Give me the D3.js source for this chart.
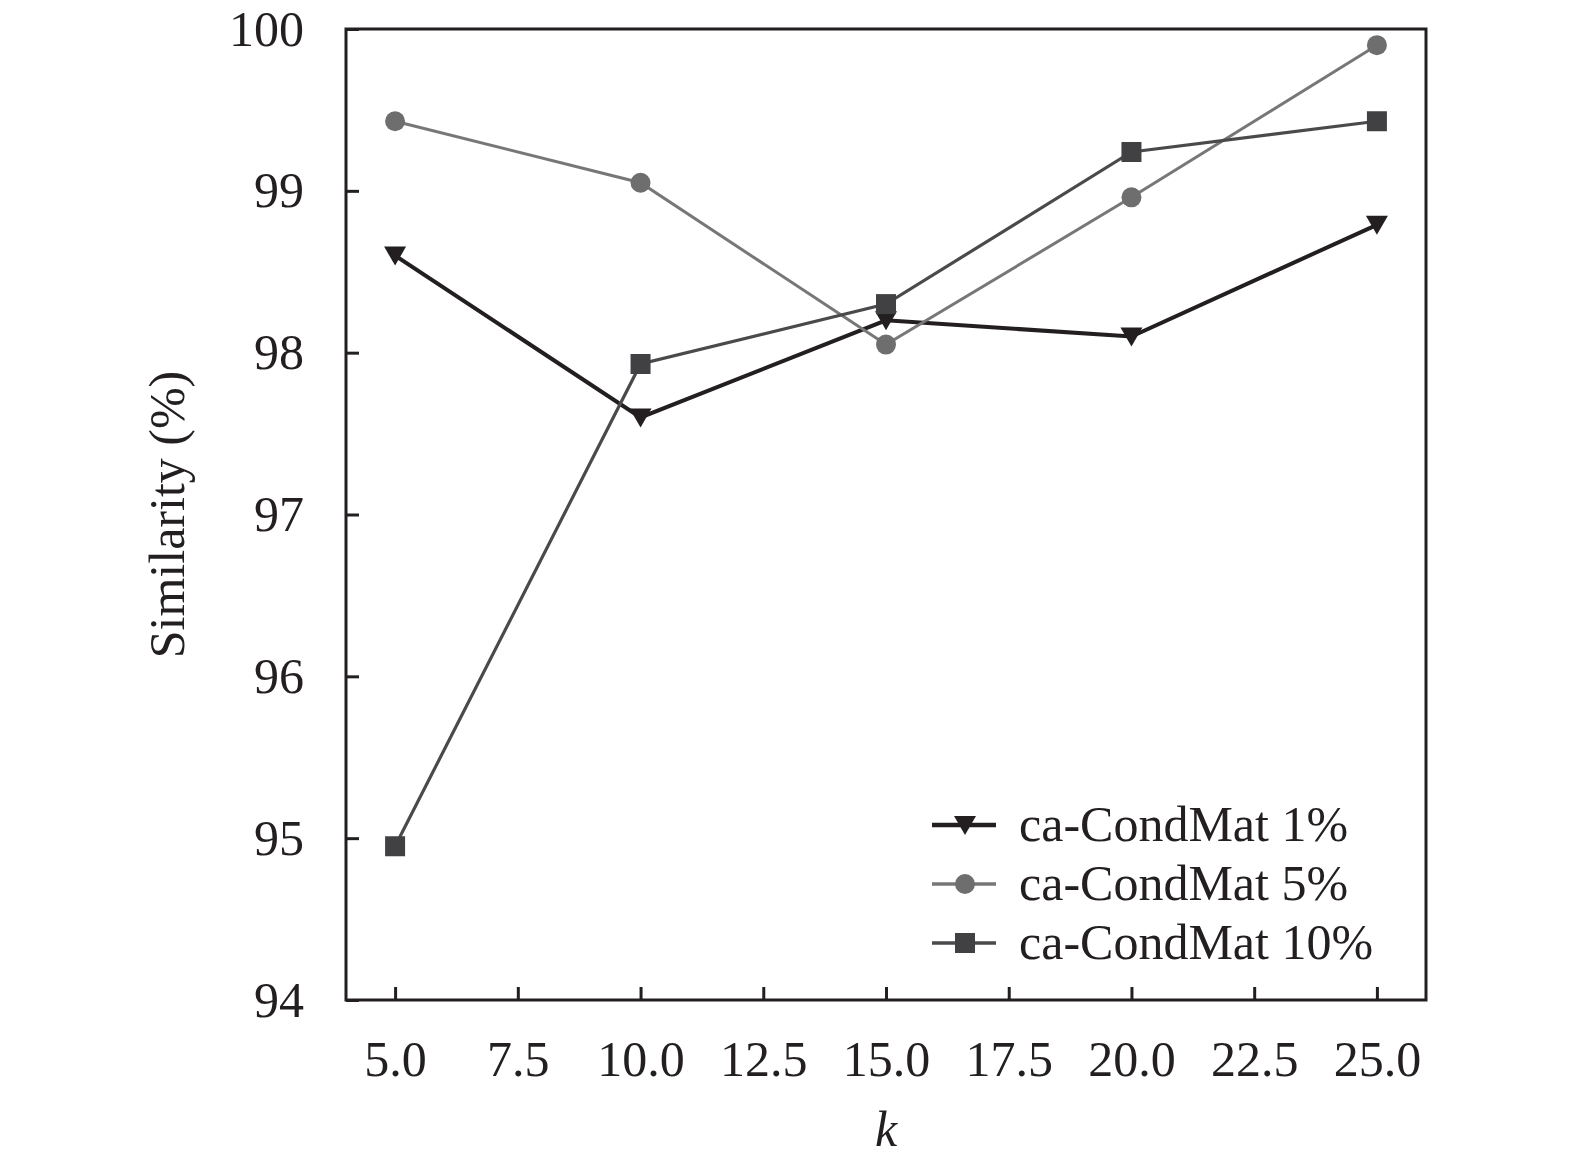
<!DOCTYPE html>
<html lang="en">
<head>
  <meta charset="UTF-8">
  <title>Similarity vs k</title>
  <style>
    html, body {
      margin: 0;
      padding: 0;
      background: #fff;
      overflow: hidden;
    }
    svg {
      display: block;
      font-family: 'Liberation Serif', 'Times New Roman', serif;
    }
  </style>
</head>
<body>
<svg width="1575" height="1169"></svg>
<script src="https://d3js.org/d3.v7.min.js"></script>
<script>
const kValues = [5, 10, 15, 20, 25];
const sim1 = [98.6, 97.6, 98.2, 98.1, 98.79];
const sim5 = [99.43, 99.05, 98.05, 98.96, 99.9];
const sim10 = [94.95, 97.93, 98.3, 99.24, 99.43];
const xTicks = [5, 7.5, 10, 12.5, 15, 17.5, 20, 22.5, 25];
const yTicks = [94, 95, 96, 97, 98, 99, 100];

const series = [
  { name: "ca-CondMat 1%", values: sim1, color: "#231f20", fill: "#231f20", width: 4, symbol: "tri" },
  { name: "ca-CondMat 5%", values: sim5, color: "#777777", fill: "#6e6e6e", width: 3, symbol: "circle" },
  { name: "ca-CondMat 10%", values: sim10, color: "#4a494b", fill: "#414042", width: 3.2, symbol: "square" }
];

const svg = d3.select("svg");
const m = { left: 346, top: 29, right: 1426, bottom: 1000 };

const x = d3.scaleLinear().domain([4, 26]).range([m.left, m.right]);
const y = d3.scaleLinear().domain([94, 100]).range([m.bottom, m.top]);

// frame
svg.append("rect")
  .attr("x", m.left).attr("y", m.top)
  .attr("width", m.right - m.left).attr("height", m.bottom - m.top)
  .attr("fill", "none").attr("stroke", "#231f20").attr("stroke-width", 3);

// x axis (ticks inward)
const xAxis = svg.append("g")
  .attr("transform", `translate(0,${m.bottom})`)
  .call(d3.axisBottom(x).tickValues(xTicks).tickSizeInner(-13).tickSizeOuter(0)
    .tickPadding(40).tickFormat(d3.format(".1f")));
xAxis.select(".domain").remove();
xAxis.selectAll("line").attr("stroke", "#231f20").attr("stroke-width", 3);
xAxis.selectAll("text")
  .attr("font-size", 50).attr("fill", "#231f20")
  .attr("font-family", "'Liberation Serif', serif");

// y axis
const yAxis = svg.append("g")
  .attr("transform", `translate(${m.left},0)`)
  .call(d3.axisLeft(y).tickValues(yTicks).tickSizeInner(-13).tickSizeOuter(0)
    .tickPadding(42).tickFormat(d3.format("d")));
yAxis.select(".domain").remove();
yAxis.selectAll("line").attr("stroke", "#231f20").attr("stroke-width", 3);
yAxis.selectAll("text")
  .attr("font-size", 50).attr("fill", "#231f20")
  .attr("font-family", "'Liberation Serif', serif");

// axis titles
svg.append("text")
  .attr("x", x(15)).attr("y", 1146)
  .attr("text-anchor", "middle")
  .attr("font-size", 50).attr("font-style", "italic").attr("fill", "#231f20")
  .text("k");

svg.append("text")
  .attr("transform", `translate(184,${y(97)}) rotate(-90)`)
  .attr("text-anchor", "middle")
  .attr("font-size", 50).attr("fill", "#231f20")
  .text("Similarity (%)");

// marker drawing
function drawSymbol(g, s, cx, cy) {
  if (s.symbol === "tri") {
    g.append("path")
      .attr("d", `M${cx - 11},${cy - 9} L${cx + 11},${cy - 9} L${cx},${cy + 10} Z`)
      .attr("fill", s.fill);
  } else if (s.symbol === "circle") {
    g.append("circle").attr("cx", cx).attr("cy", cy).attr("r", 10).attr("fill", s.fill);
  } else {
    g.append("rect").attr("x", cx - 10).attr("y", cy - 10)
      .attr("width", 20).attr("height", 20).attr("fill", s.fill);
  }
}

const line = d3.line().x(d => x(d[0])).y(d => y(d[1]));

series.forEach(s => {
  const pts = kValues.map((k, i) => [k, s.values[i]]);
  const g = svg.append("g");
  g.append("path")
    .attr("d", line(pts))
    .attr("fill", "none")
    .attr("stroke", s.color)
    .attr("stroke-width", s.width)
    .attr("stroke-linejoin", "miter");
  pts.forEach(p => drawSymbol(g, s, x(p[0]), y(p[1])));
});

// legend
const legend = svg.append("g");
series.forEach((s, i) => {
  const ly = 825 + i * 59;
  legend.append("line")
    .attr("x1", 932).attr("x2", 996).attr("y1", ly).attr("y2", ly)
    .attr("stroke", s.color).attr("stroke-width", s.width + 0.5);
  drawSymbol(legend, s, 965, ly);
  legend.append("text")
    .attr("x", 1019).attr("y", ly + 16)
    .attr("font-size", 50).attr("fill", "#231f20")
    .text(s.name);
});
</script>
</body>
</html>
